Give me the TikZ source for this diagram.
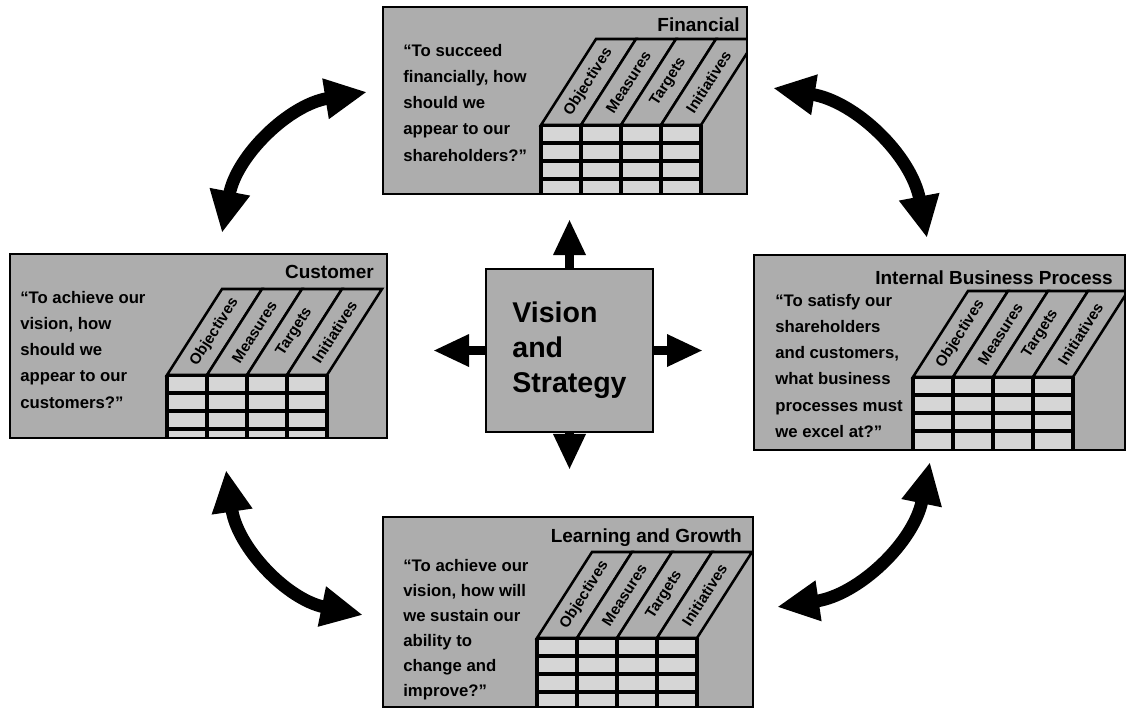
\documentclass[tikz,border=0pt]{standalone}
\usepackage{fontspec}
\setmainfont{Liberation Sans}
\usetikzlibrary{arrows.meta,calc}

\definecolor{panelgray}{gray}{0.68}
\definecolor{cellgray}{gray}{0.84}

\tikzset{
  panel/.style={draw=black, line width=1.8pt, fill=panelgray, inner sep=0pt, outer sep=0pt},
  gridline/.style={line width=2.2pt, black},
  stripline/.style={line width=1.8pt, black, fill=panelgray},
  striptext/.style={font=\bfseries\fontsize{10.8}{12}\selectfont, rotate=57.4, inner sep=0pt},
  ptitle/.style={font=\bfseries\fontsize{13.5}{16}\selectfont, inner sep=0pt, anchor=east},
  question/.style={font=\bfseries\fontsize{11.9}{18.6}\selectfont, align=left, inner sep=0pt, anchor=north west},
  swing/.style={line width=9pt, {Triangle[length=1.05cm,width=0.95cm]}-{Triangle[length=1.05cm,width=0.95cm]}},
  push/.style={line width=6.5pt, -{Triangle[length=0.9cm,width=0.75cm]}},
}

% Perspective panel: #1 name, #2 left, #3 top, #4 right, #5 bottom,
% #6 left edge of the table, #7 top edge of the table grid
\newcommand\scorecard[7]{%
  \node[panel, minimum width={(#4-#2)*0.025cm}, minimum height={(#5-#3)*0.025cm}]
    (#1) at ({(#2+#4)/2},{(#3+#5)/2}) {};
  \begin{scope}
    \clip (#2,#3) rectangle (#4,#5);
    \fill[cellgray] (#6,#7) rectangle (#6+160,#5);
    \foreach \r in {0,18,36,54} \draw[gridline] (#6,#7+\r) -- (#6+160,#7+\r);
    \foreach \c in {0,40,80,120,160} \draw[gridline] (#6+\c,#7) -- (#6+\c,#5);
    \foreach \c/\lbl in {0/Objectives,40/Measures,80/Targets,120/Initiatives} {
      \draw[stripline] (#6+\c,#7) -- ++(40,0) -- ++(55,-86) -- ++(-40,0) -- cycle;
      \node[striptext] at (#6+\c+47.5,#7-43) {\lbl};
    }
  \end{scope}
  \draw[line width=1.8pt] (#2,#3) rectangle (#4,#5);
}

\begin{document}
\begin{tikzpicture}[x=0.025cm, y=-0.025cm]
  \fill[white] (0,0) rectangle (1128,710);
  \useasboundingbox (0,0) rectangle (1128,710);

  % the four perspectives
  \scorecard{fin}{383}{7}{747}{194}{541}{125}
  \scorecard{cus}{10}{254}{387}{438}{167}{375}
  \scorecard{ibp}{754}{255}{1125}{450}{913}{377}
  \scorecard{lrn}{383}{517}{753}{707}{537}{638}

  \node[ptitle] (fint) at (740,25) {Financial};
  \node[ptitle] (cust) at (374,272) {Customer};
  \node[ptitle] (ibpt) at (1113,278) {Internal Business Process};
  \node[ptitle] (lrnt) at (742,538) {Learning and Growth};

  \node[question] (finq) at (403,44) {“To succeed\\financially, how\\should we\\appear to our\\shareholders?”};
  \node[question] (cusq) at (20,291) {“To achieve our\\vision, how\\should we\\appear to our\\customers?”};
  \node[question] (ibpq) at (775,294) {“To satisfy our\\shareholders\\and customers,\\what business\\processes must\\we excel at?”};
  \node[question, font=\bfseries\fontsize{11.9}{17.8}\selectfont] (lrnq) at (403,559)
    {“To achieve our\\vision, how will\\we sustain our\\ability to\\change and\\improve?”};

  % centre
  \node[panel, minimum width={167*0.025cm}, minimum height={163*0.025cm},
        align=left, font=\bfseries\fontsize{20.3}{24.9}\selectfont] (vis) at (569.5,350.5)
    {Vision\\and\\Strategy};

  \coordinate (up) at (569.5,219);
  \coordinate (dn) at (569.5,470);
  \coordinate (lf) at (433,350.5);
  \coordinate (rt) at (703,350.5);
  \draw[push] (vis.north) -- (up);
  \draw[push] (vis.south) -- (dn);
  \draw[push] (vis.west) -- (lf);
  \draw[push] (vis.east) -- (rt);

  % links between neighbouring perspectives
  \coordinate (a1) at (222,233); \coordinate (a2) at (367,92);
  \coordinate (b1) at (773,88);  \coordinate (b2) at (927,238);
  \coordinate (c1) at (226,470); \coordinate (c2) at (363,615);
  \coordinate (d1) at (930,462); \coordinate (d2) at (777,607);
  \draw[swing] (a1) to[bend left=35] (a2);
  \draw[swing] (b1) to[bend left=35] (b2);
  \draw[swing] (c1) to[bend right=35] (c2);
  \draw[swing] (d1) to[bend left=35] (d2);
\end{tikzpicture}
\end{document}
